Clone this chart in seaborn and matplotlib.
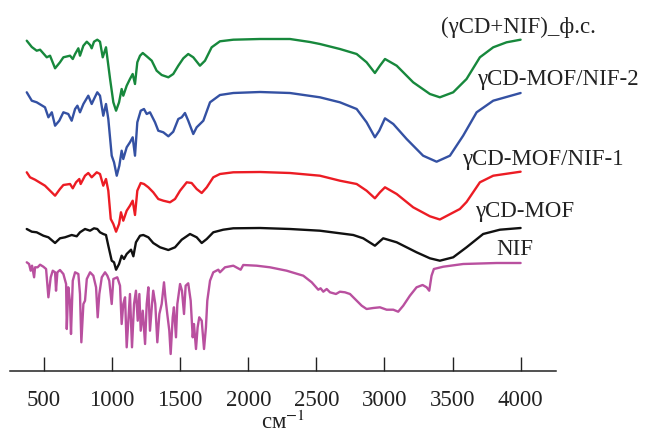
"""FTIR spectra of NIF, gamma-CD-MOF and the loaded samples, stacked with offsets."""

import matplotlib

matplotlib.use("Agg")
import matplotlib.pyplot as plt
import numpy as np
import pandas as pd
import seaborn as sns

# --- spectra (wavenumber, cm-1 / relative transmittance, a.u.) ---
wn_green = [373, 410, 446, 471, 520, 544, 581, 617, 642, 691, 711, 728, 752, 764, 789,
            814, 838, 850, 867, 891, 911, 931, 955, 985, 1009, 1029, 1051, 1070, 1082,
            1107, 1131, 1151, 1168, 1185, 1205, 1225, 1254, 1291, 1327, 1364, 1413, 1449,
            1486, 1523, 1559, 1596, 1645, 1682, 1731, 1792, 1890, 2086, 2306, 2453, 2526,
            2673, 2796, 2869, 2930, 2967, 3004, 3090, 3211, 3334, 3407, 3505, 3603, 3701,
            3799, 3897, 4000]
t_green = [-1.7, -8, -11.7, -10.7, -18.3, -16.7, -29.3, -23.3, -18.3, -16.7, -20, -15, -9.3,
           -16.7, -6.7, -2.7, -6, -9.3, -2.7, -0.7, -2.7, -18.3, -8.3, -40, -63.3, -71.7,
           -63.3, -50, -56.7, -46.7, -40, -35, -45, -23.3, -16.7, -14, -17.3, -21.7, -31.7,
           -36, -38.3, -35, -26.7, -19.3, -15, -18.3, -26.7, -21.7, -8.3, -2.3, -0.7, 0, 0,
           -3, -5, -10, -15, -23.3, -34, -26.7, -20, -26.7, -43.3, -55, -58.3, -53.3, -40,
           -18.3, -8.3, -3.3, -0.7]

wn_blue = [373, 410, 446, 507, 532, 557, 581, 612, 642, 678, 703, 728, 745, 764, 789, 825,
           850, 867, 891, 911, 935, 955, 972, 997, 1014, 1034, 1053, 1070, 1082, 1107, 1131,
           1151, 1168, 1185, 1210, 1234, 1254, 1278, 1315, 1339, 1376, 1413, 1449, 1486,
           1511, 1535, 1559, 1596, 1621, 1670, 1719, 1792, 1890, 2086, 2306, 2526, 2673,
           2796, 2869, 2930, 2962, 3004, 3065, 3163, 3284, 3383, 3481, 3578, 3677, 3799, 4000]
t_blue = [-0.3, -8.7, -10.3, -15.3, -25.3, -20.3, -33.7, -28.7, -20.3, -22, -28.7, -17, -13.7,
          -20.3, -12, -3.7, -12, -7, -0.3, -3.7, -23.7, -12, -27, -63.7, -70.3, -83.7, -73.7,
          -58.7, -67, -55.3, -50.3, -45.3, -63.7, -30.3, -18.7, -17, -22, -20.3, -30.3,
          -38.7, -40.3, -44.3, -39.7, -27, -25.3, -21, -28.7, -42, -35.3, -28.7, -10.3, -3,
          -1, 0, -1, -5.3, -10.3, -17, -30.3, -45.3, -38.7, -26.3, -32, -47, -63.7, -69.7,
          -63.7, -43.7, -20.3, -8.7, -1]

wn_red = [373, 397, 434, 507, 581, 617, 642, 691, 711, 735, 759, 769, 801, 825, 850, 887,
          911, 935, 955, 972, 990, 1009, 1029, 1051, 1065, 1082, 1107, 1131, 1151, 1168,
          1185, 1210, 1234, 1266, 1302, 1339, 1376, 1425, 1462, 1499, 1548, 1584, 1621,
          1658, 1695, 1743, 1792, 1890, 2086, 2306, 2526, 2673, 2796, 2869, 2930, 2967,
          3004, 3090, 3211, 3334, 3407, 3554, 3603, 3701, 3799, 4000]
t_red = [-0.3, -5.3, -7.7, -13.7, -23.7, -17, -13, -12, -16.3, -10.3, -7, -12, -3.7, -1,
         -5.3, -0.3, -2, -13.7, -7, -18.7, -47, -52, -59.7, -52, -40.3, -48.7, -38.7, -33.7,
         -28.7, -43, -18.7, -11, -12, -15.3, -20.3, -27, -28.7, -30.3, -27, -18.7, -10.3,
         -11, -17, -21, -15.3, -5.3, -2, -0.3, 0, -1, -3.7, -8.7, -12, -18.7, -26.3, -20.3,
         -15.3, -22, -35.3, -44.3, -47.5, -37, -30, -10.3, -3.7, 0.3]

wn_black = [373, 410, 446, 495, 532, 581, 617, 654, 703, 740, 764, 801, 838, 867, 891, 911,
            935, 955, 972, 997, 1014, 1029, 1051, 1070, 1087, 1107, 1139, 1156, 1175, 1205,
            1229, 1266, 1302, 1352, 1413, 1462, 1511, 1572, 1621, 1658, 1695, 1743, 1816,
            1890, 2086, 2306, 2526, 2771, 2844, 2930, 2991, 3090, 3236, 3334, 3407, 3505,
            3603, 3725, 3848, 4000]
t_black = [-1, -3.7, -4.3, -7.7, -9.3, -15, -10.3, -9.3, -7, -8.3, -4.3, -1, -2.7, -0.3, -1,
           -4.3, -6, -7, -17.7, -32.7, -34.3, -41.7, -36, -27.7, -31, -26, -21.7, -28.3,
           -14.3, -7.7, -7, -9.3, -15, -19.3, -22, -19.3, -11.7, -6, -9.3, -15, -11, -4.3,
           -1.7, -0.3, 0, -1, -2.7, -7, -10.3, -17.7, -10.3, -14.3, -24.3, -30.3, -32.7,
           -29.3, -19.3, -6, -1.7, 0]

wn_nif = [373, 390, 402, 412, 427, 434, 453, 471, 495, 515, 532, 549, 564, 581, 588, 598,
          617, 642, 662, 667, 678, 691, 698, 711, 728, 752, 764, 774, 789, 801, 814, 838,
          862, 882, 894, 906, 924, 948, 965, 979, 997, 1009, 1038, 1058, 1070, 1082, 1095,
          1107, 1119, 1131, 1146, 1161, 1175, 1188, 1200, 1210, 1225, 1242, 1254, 1266,
          1278, 1293, 1302, 1317, 1332, 1347, 1364, 1381, 1391, 1405, 1420, 1430, 1445,
          1454, 1469, 1479, 1499, 1513, 1528, 1540, 1559, 1577, 1592, 1601, 1616, 1628,
          1640, 1658, 1675, 1689, 1699, 1719, 1743, 1780, 1792, 1829, 1890, 1944, 1963,
          2062, 2159, 2282, 2404, 2466, 2514, 2531, 2551, 2576, 2600, 2644, 2673, 2710,
          2747, 2796, 2833, 2869, 2918, 2967, 3016, 3065, 3101, 3138, 3187, 3236, 3280,
          3310, 3329, 3346, 3363, 3432, 3578, 3824, 4000]
t_nif = [0.7, -1, -7.7, -2.7, -14.3, -4.3, -4.3, -1.7, -3.7, -6, -34.3, -14.3, -7.7, -9.3,
         -27.7, -9.3, -7, -11, -21, -66, -24.3, -39.3, -71, -17.7, -9.3, -11, -31, -79.3,
         -41, -37.7, -16, -9.3, -12.7, -24.3, -54.3, -31, -14.3, -9.3, -12.7, -17.7, -41,
         -16, -14.3, -22.7, -61, -41, -34.3, -84.3, -57.7, -31, -84.3, -41, -27.7, -57.7,
         -31, -67.7, -47.7, -81, -41, -24.3, -67.7, -41, -27.7, -41, -79.3, -51, -41,
         -19.3, -34.3, -51, -67.7, -91, -54.3, -44.3, -74.3, -41, -21, -27.7, -51, -22.7,
         -20.3, -37.7, -74.3, -61, -86, -64.3, -54.3, -57.7, -86, -64.3, -37.7, -17.7,
         -9.3, -6.7, -9.3, -4.3, -2.7, -6.7, -2, -2.7, -4.3, -7.7, -12.7, -19.3, -26.7,
         -25.3, -28.7, -26, -29.3, -31, -28.7, -29.3, -31, -37.7, -42.7, -46, -45, -44.3,
         -46.7, -46.7, -48.7, -42.7, -32.7, -24.3, -22, -24.3, -27.7, -12.7, -6, -3.7, -1,
         0, 0]

samples = ["(γCD+NIF)_ф.с.", "γCD-MOF/NIF-2", "γCD-MOF/NIF-1", "γCD-MOF", "NIF"]
spectra = [(wn_green, t_green), (wn_blue, t_blue), (wn_red, t_red),
           (wn_black, t_black), (wn_nif, t_nif)]
offsets = [332, 279, 199, 143, 108]
colors = ["#17883c", "#3451a3", "#ec1c24", "#111111", "#b9509f"]
xticks = [500, 1000, 1500, 2000, 2500, 3000, 3500, 4000]

# label anchor (left edge x, vertical centre y) in data units
label_pos = [(3415, 345), (3679, 292), (3569, 212), (3664, 160), (3819, 122)]

frames = []
for name, (wn, t), off in zip(samples, spectra, offsets):
    frames.append(pd.DataFrame({"wn": wn, "t": np.array(t) + off, "sample": name}))
df = pd.concat(frames, ignore_index=True)

sns.set_style("ticks")
plt.rcParams["font.family"] = ["Liberation Serif", "DejaVu Serif"]
plt.rcParams["mathtext.fontset"] = "stix"
plt.rcParams["lines.solid_joinstyle"] = "round"

fig = plt.figure(figsize=(6.47, 4.35), dpi=100)
ax = fig.add_axes([10 / 647, 63 / 435, 546 / 647, 372 / 435])

sns.lineplot(data=df, x="wn", y="t", hue="sample", hue_order=samples,
             palette=colors, estimator=None, sort=False, linewidth=1.7,
             legend=False, ax=ax)

for name, (lx, ly) in zip(samples, label_pos):
    ax.text(lx, ly, name, fontsize=16.5, color="#222222", ha="left", va="center",
            clip_on=False)

ax.set_xlim(250, 4260)
ax.set_ylim(0, 372)
ax.set_xticks(xticks)
ax.set_yticks([])
ax.tick_params(axis="x", direction="in", length=10, width=1, pad=13,
               labelsize=16.5, colors="#222222", bottom=True)
for side in ["left", "right", "top"]:
    ax.spines[side].set_visible(False)
ax.spines["bottom"].set_linewidth(1.1)
ax.spines["bottom"].set_color("#222222")
ax.set_xlabel("см$^{-1}$", fontsize=16.5, color="#222222")
ax.xaxis.set_label_coords(0.5, -0.103)
ax.set_ylabel("")

fig.savefig("out.png", dpi=100)
